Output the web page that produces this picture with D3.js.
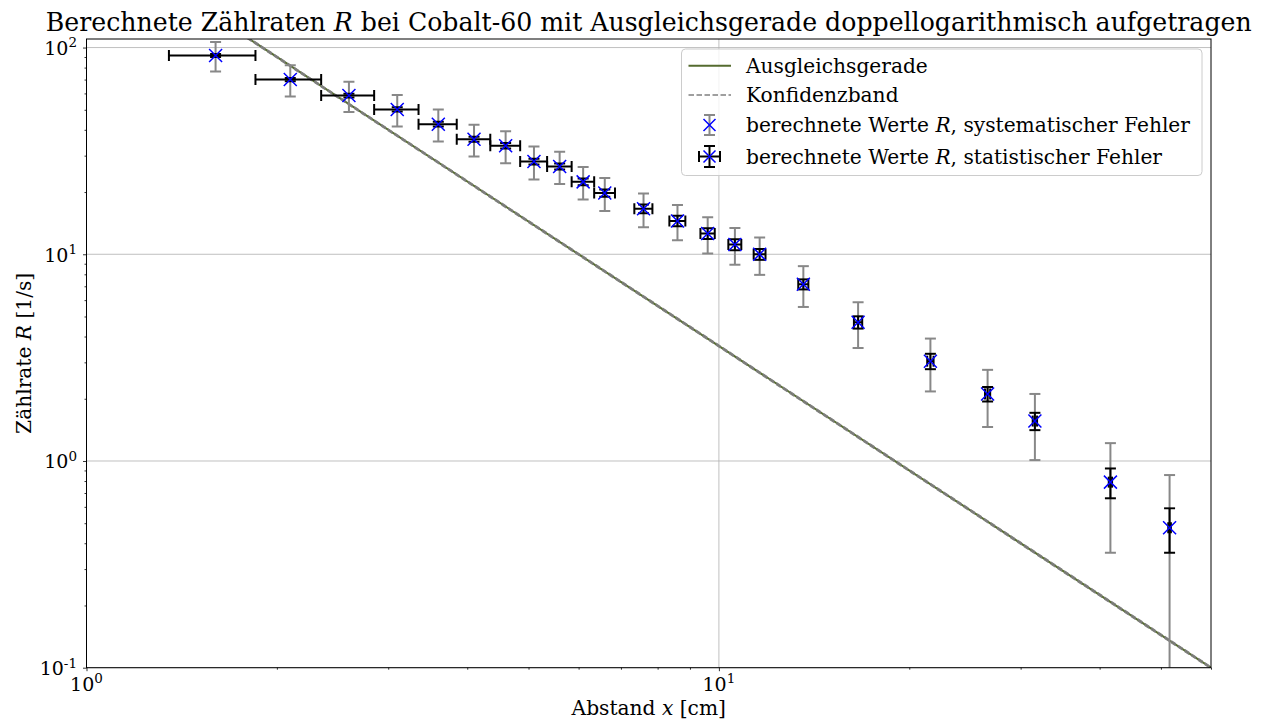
<!DOCTYPE html>
<html>
<head>
<meta charset="utf-8">
<script src="https://cdn.jsdelivr.net/npm/d3@7"></script>
<style>
body { margin: 0; background: #fff; }
text { font-family: "DejaVu Serif", serif; fill: #000; }
</style>
</head>
<body>
<div id="chart"></div>
<script>
// Messwerte: Abstand x [cm], Zaehlrate R [1/s]
var abstand = [1.6, 2.1, 2.6, 3.1, 3.6, 4.1, 4.6, 5.1, 5.6, 6.1, 6.6, 7.6, 8.6, 9.6, 10.6, 11.6, 13.6, 16.6, 21.6, 26.6, 31.6, 41.6, 51.6];
var xFehler = [0.25, 0.25, 0.25, 0.25, 0.25, 0.25, 0.25, 0.25, 0.25, 0.25, 0.25, 0.25, 0.25, 0.25, 0.25, 0.25, 0.25, 0.25, 0.25, 0.25, 0.25, 0.25, 0.25];
var zaehlrate = [91.5, 70.0, 58.6, 50.2, 42.6, 36.0, 33.5, 28.1, 26.6, 22.4, 19.8, 16.6, 14.5, 12.6, 11.15, 10.0, 7.16, 4.69, 3.04, 2.11, 1.56, 0.79, 0.475];
var sysFehler = [15, 12, 9.8, 8.7, 7.5, 6.3, 5.9, 5.1, 4.7, 4.0, 3.6, 3.1, 2.8, 2.5, 2.25, 2.05, 1.6, 1.17, 0.87, 0.65, 0.55, 0.43, 0.38];
var statFehler = [1.5, 1.3, 1.25, 1.2, 1.1, 1.0, 1.0, 0.9, 0.9, 0.85, 0.8, 0.8, 0.85, 0.75, 0.68, 0.6, 0.4, 0.32, 0.26, 0.17, 0.15, 0.13, 0.115];

// Ausgleichsgerade und Konfidenzband (Endpunkte)
var fitX = [1, 60];
var fitY = [360, 0.1];
var bandOben = [363, 0.101];
var bandUnten = [357, 0.099];

// Achsen
var xMajor = [1, 10];
var xMajorExp = ["0", "1"];
var xMinor = [2, 3, 4, 5, 6, 7, 8, 9, 20, 30, 40, 50, 60];
var yMajor = [0.1, 1, 10, 100];
var yMajorExp = ["-1", "0", "1", "2"];
var yMinor = [0.2, 0.3, 0.4, 0.5, 0.6, 0.7, 0.8, 0.9, 2, 3, 4, 5, 6, 7, 8, 9, 20, 30, 40, 50, 60, 70, 80, 90];

var width = 1264, height = 722;
var m = {left: 86.5, right: 1211, top: 39, bottom: 667.7};

var svg = d3.select("#chart").append("svg")
    .attr("width", width)
    .attr("height", height);

var x = d3.scaleLog().domain([1, 60]).range([m.left, m.right]);
var y = d3.scaleLog().domain([0.1, 110]).range([m.bottom, m.top]);

svg.append("defs").append("clipPath").attr("id", "plotclip")
    .append("rect")
    .attr("x", m.left).attr("y", m.top)
    .attr("width", m.right - m.left).attr("height", m.bottom - m.top);

// Gitter
var grid = svg.append("g").attr("stroke", "#b0b0b0").attr("stroke-width", 0.8);
grid.selectAll(".gy").data(yMajor).enter().append("line")
    .attr("x1", m.left).attr("x2", m.right)
    .attr("y1", function(d) { return y(d); })
    .attr("y2", function(d) { return y(d); });
grid.selectAll(".gx").data(xMajor).enter().append("line")
    .attr("y1", m.top).attr("y2", m.bottom)
    .attr("x1", function(d) { return x(d); })
    .attr("x2", function(d) { return x(d); });

// Ticks
function ticks(g) { g.select(".domain").remove(); g.selectAll("line").attr("stroke", "#000").attr("stroke-width", 0.8); }
svg.append("g").attr("transform", "translate(0," + m.bottom + ")")
    .call(d3.axisBottom(x).tickValues(xMajor).tickSize(3.5).tickFormat(""))
    .call(ticks);
svg.append("g").attr("transform", "translate(0," + m.bottom + ")")
    .call(d3.axisBottom(x).tickValues(xMinor).tickSize(2).tickFormat(""))
    .call(ticks);
svg.append("g").attr("transform", "translate(" + m.left + ",0)")
    .call(d3.axisLeft(y).tickValues(yMajor).tickSize(3.5).tickFormat(""))
    .call(ticks);
svg.append("g").attr("transform", "translate(" + m.left + ",0)")
    .call(d3.axisLeft(y).tickValues(yMinor).tickSize(2).tickFormat(""))
    .call(ticks);

// Tick-Beschriftungen 10^n
function zehnerPotenz(t, exp) {
    t.append("tspan").text("10");
    t.append("tspan").attr("dy", -7.5).attr("font-size", 13.5).text(exp);
}
xMajor.forEach(function(v, i) {
    var t = svg.append("text").attr("x", x(v)).attr("y", 690.5)
        .attr("text-anchor", "middle").attr("font-size", 19);
    zehnerPotenz(t, xMajorExp[i]);
});
yMajor.forEach(function(v, i) {
    var t = svg.append("text").attr("x", 77).attr("y", y(v) + 7.3)
        .attr("text-anchor", "end").attr("font-size", 19);
    zehnerPotenz(t, yMajorExp[i]);
});

// Plotbereich
var plot = svg.append("g").attr("clip-path", "url(#plotclip)");

var line = d3.line()
    .x(function(d) { return x(d[0]); })
    .y(function(d) { return y(d[1]); });

plot.append("path")
    .datum(d3.zip(fitX, fitY))
    .attr("d", line)
    .attr("fill", "none")
    .attr("stroke", "#556b2f")
    .attr("stroke-width", 2);
[bandOben, bandUnten].forEach(function(b) {
    plot.append("path")
        .datum(d3.zip(fitX, b))
        .attr("d", line)
        .attr("fill", "none")
        .attr("stroke", "#808080")
        .attr("stroke-width", 1.5)
        .attr("stroke-dasharray", "5.5,2.5");
});

var cap = 5.5;
var punkte = abstand.map(function(d, i) {
    return {x: d, xe: xFehler[i], r: zaehlrate[i], sys: sysFehler[i], stat: statFehler[i]};
});
function yLow(v) { return y(Math.max(v, 0.05)); }

// systematische Fehler (grau)
var sys = plot.append("g").attr("stroke", "#888").attr("stroke-width", 2);
punkte.forEach(function(p) {
    var cx = x(p.x), y1 = y(p.r + p.sys), y2 = yLow(p.r - p.sys);
    sys.append("line").attr("x1", cx).attr("x2", cx).attr("y1", y1).attr("y2", y2);
    sys.append("line").attr("x1", cx - cap).attr("x2", cx + cap).attr("y1", y1).attr("y2", y1);
    sys.append("line").attr("x1", cx - cap).attr("x2", cx + cap).attr("y1", y2).attr("y2", y2);
});

// statistische Fehler (schwarz)
var stat = plot.append("g").attr("stroke", "#000").attr("stroke-width", 2);
punkte.forEach(function(p) {
    var cx = x(p.x), cy = y(p.r);
    var y1 = y(p.r + p.stat), y2 = y(p.r - p.stat);
    var x1 = x(p.x - p.xe), x2 = x(p.x + p.xe);
    stat.append("line").attr("x1", cx).attr("x2", cx).attr("y1", y1).attr("y2", y2);
    stat.append("line").attr("x1", cx - cap).attr("x2", cx + cap).attr("y1", y1).attr("y2", y1);
    stat.append("line").attr("x1", cx - cap).attr("x2", cx + cap).attr("y1", y2).attr("y2", y2);
    stat.append("line").attr("x1", x1).attr("x2", x2).attr("y1", cy).attr("y2", cy);
    stat.append("line").attr("x1", x1).attr("x2", x1).attr("y1", cy - cap).attr("y2", cy + cap);
    stat.append("line").attr("x1", x2).attr("x2", x2).attr("y1", cy - cap).attr("y2", cy + cap);
});

// Marker x
function kreuz(g, cx, cy, s) {
    g.append("path")
        .attr("d", "M" + (cx - s) + "," + (cy - s) + "L" + (cx + s) + "," + (cy + s) +
                   "M" + (cx - s) + "," + (cy + s) + "L" + (cx + s) + "," + (cy - s))
        .attr("stroke", "#0000ff").attr("stroke-width", 1.5).attr("fill", "none");
}
var marker = plot.append("g");
punkte.forEach(function(p) { kreuz(marker, x(p.x), y(p.r), 6.5); });

// Rahmen
svg.append("rect")
    .attr("x", m.left).attr("y", m.top)
    .attr("width", m.right - m.left).attr("height", m.bottom - m.top)
    .attr("fill", "none").attr("stroke", "#000").attr("stroke-width", 1);

// Titel und Achsenbeschriftungen
var titel = svg.append("text").attr("x", (m.left + m.right) / 2).attr("y", 30.5)
    .attr("text-anchor", "middle").attr("font-size", 25.2);
titel.append("tspan").text("Berechnete Zählraten ");
titel.append("tspan").attr("font-style", "italic").text("R");
titel.append("tspan").text(" bei Cobalt-60 mit Ausgleichsgerade doppellogarithmisch aufgetragen");

var xl = svg.append("text").attr("x", (m.left + m.right) / 2).attr("y", 715)
    .attr("text-anchor", "middle").attr("font-size", 20.2);
xl.append("tspan").text("Abstand ");
xl.append("tspan").attr("font-style", "italic").text("x");
xl.append("tspan").text(" [cm]");

var yl = svg.append("text")
    .attr("transform", "translate(31," + ((m.top + m.bottom) / 2) + ") rotate(-90)")
    .attr("text-anchor", "middle").attr("font-size", 20.2);
yl.append("tspan").text("Zählrate ");
yl.append("tspan").attr("font-style", "italic").text("R");
yl.append("tspan").text(" [1/s]");

// Legende
var lg = svg.append("g");
lg.append("rect")
    .attr("x", 681.5).attr("y", 49).attr("width", 520.5).attr("height", 126.5)
    .attr("rx", 4).attr("fill", "#fff").attr("fill-opacity", 0.8)
    .attr("stroke", "#cccccc").attr("stroke-width", 1);
var lgY = [65.7, 95, 125, 156.5];
var lgLabels = [
    ["Ausgleichsgerade"],
    ["Konfidenzband"],
    ["berechnete Werte ", "R", ", systematischer Fehler"],
    ["berechnete Werte ", "R", ", statistischer Fehler"]
];
lg.append("line").attr("x1", 688.5).attr("x2", 731).attr("y1", lgY[0]).attr("y2", lgY[0])
    .attr("stroke", "#556b2f").attr("stroke-width", 2);
lg.append("line").attr("x1", 688.5).attr("x2", 731).attr("y1", lgY[1]).attr("y2", lgY[1])
    .attr("stroke", "#808080").attr("stroke-width", 1.5).attr("stroke-dasharray", "5.5,2.5");
var hx = 709.5;
var h3 = lg.append("g").attr("stroke", "#888").attr("stroke-width", 2);
h3.append("line").attr("x1", hx).attr("x2", hx).attr("y1", lgY[2] - 10).attr("y2", lgY[2] + 10);
h3.append("line").attr("x1", hx - cap).attr("x2", hx + cap).attr("y1", lgY[2] - 10).attr("y2", lgY[2] - 10);
h3.append("line").attr("x1", hx - cap).attr("x2", hx + cap).attr("y1", lgY[2] + 10).attr("y2", lgY[2] + 10);
kreuz(lg, hx, lgY[2], 6);
var h4 = lg.append("g").attr("stroke", "#000").attr("stroke-width", 2);
h4.append("line").attr("x1", hx).attr("x2", hx).attr("y1", lgY[3] - 10.5).attr("y2", lgY[3] + 10.5);
h4.append("line").attr("x1", hx - cap).attr("x2", hx + cap).attr("y1", lgY[3] - 10.5).attr("y2", lgY[3] - 10.5);
h4.append("line").attr("x1", hx - cap).attr("x2", hx + cap).attr("y1", lgY[3] + 10.5).attr("y2", lgY[3] + 10.5);
h4.append("line").attr("x1", hx - 10.5).attr("x2", hx + 10.5).attr("y1", lgY[3]).attr("y2", lgY[3]);
h4.append("line").attr("x1", hx - 10.5).attr("x2", hx - 10.5).attr("y1", lgY[3] - cap).attr("y2", lgY[3] + cap);
h4.append("line").attr("x1", hx + 10.5).attr("x2", hx + 10.5).attr("y1", lgY[3] - cap).attr("y2", lgY[3] + cap);
kreuz(lg, hx, lgY[3], 6);

lgLabels.forEach(function(parts, i) {
    var t = lg.append("text").attr("x", 746).attr("y", lgY[i] + 7).attr("font-size", 20.2);
    parts.forEach(function(s, j) {
        var ts = t.append("tspan").text(s);
        if (j === 1) ts.attr("font-style", "italic");
    });
});
</script>
</body>
</html>
